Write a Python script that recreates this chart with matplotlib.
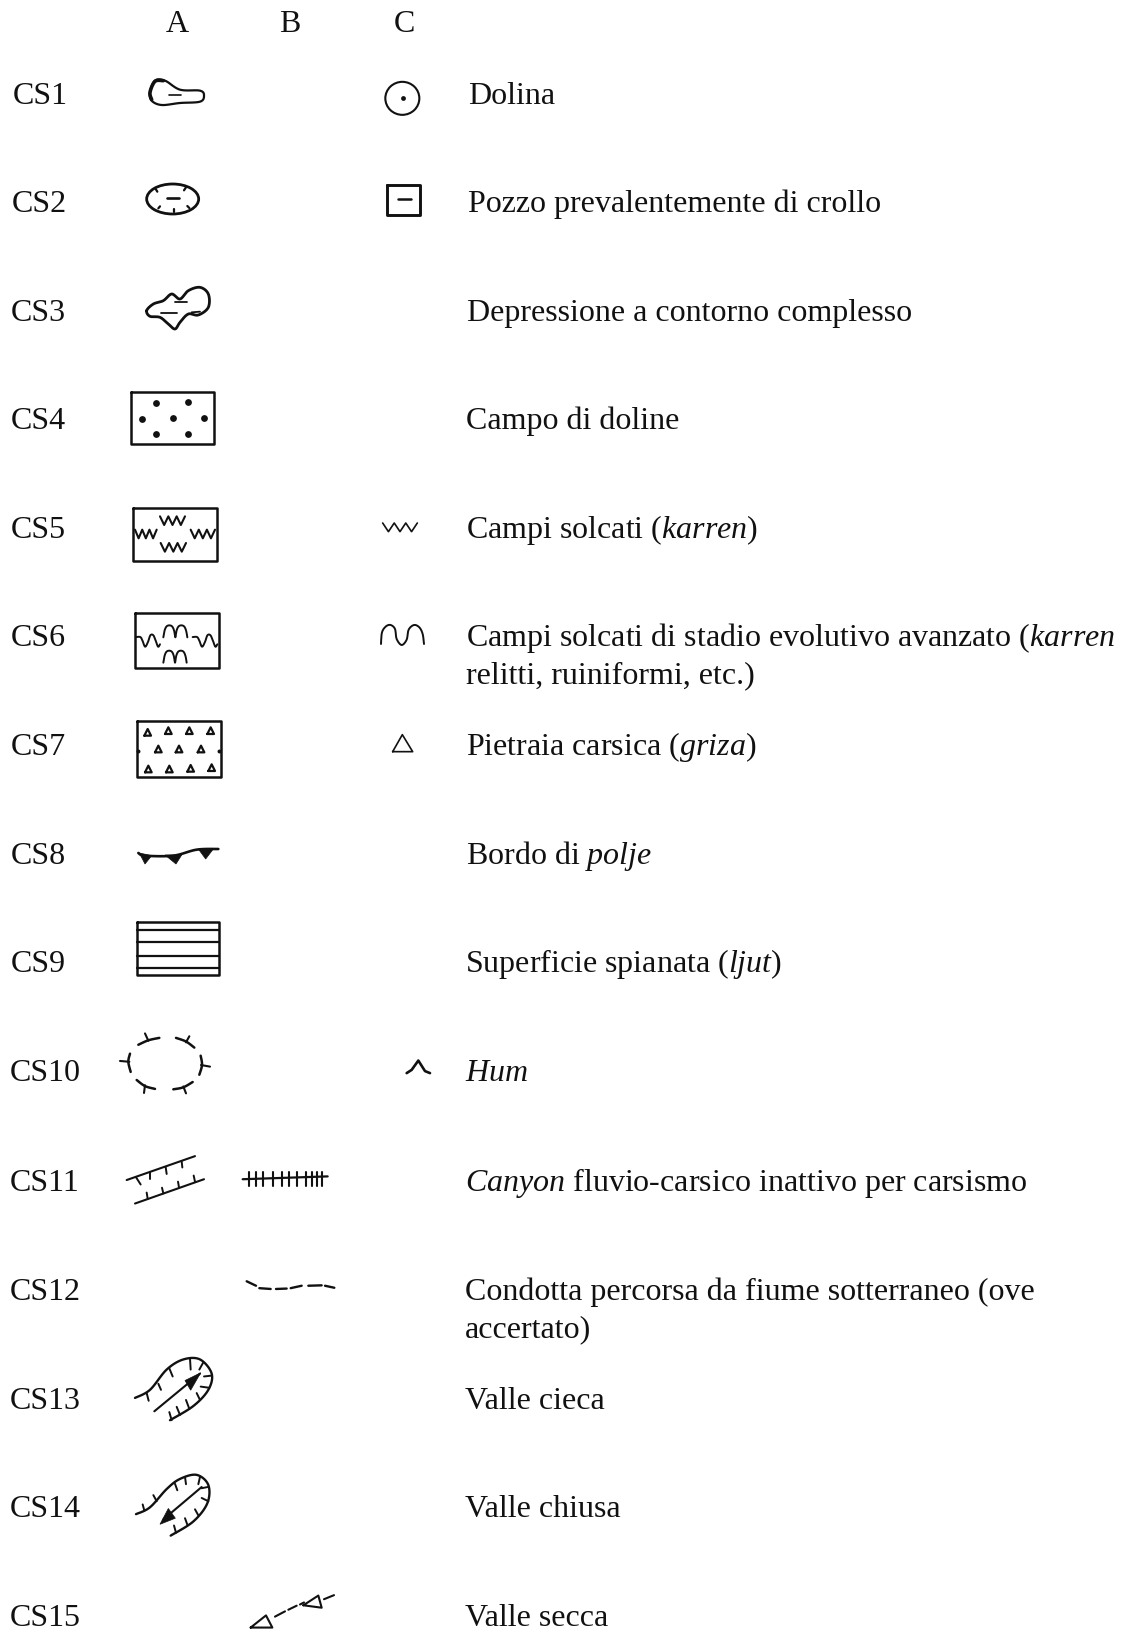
import numpy as np
import matplotlib
matplotlib.use("Agg")
import matplotlib.pyplot as plt
from matplotlib.patches import Polygon, Ellipse

plt.rcParams['font.family'] = ['Liberation Serif']
plt.rcParams['mathtext.fontset'] = 'custom'
plt.rcParams['mathtext.rm'] = 'Liberation Serif'
plt.rcParams['mathtext.it'] = 'Liberation Serif:italic'

# ---- content
col_heads = ["A", "B", "C"]
row_codes = ["CS1", "CS2", "CS3", "CS4", "CS5", "CS6", "CS7", "CS8", "CS9", "CS10",
             "CS11", "CS12", "CS13", "CS14", "CS15"]
descriptions = [
    "Dolina",
    "Pozzo prevalentemente di crollo",
    "Depressione a contorno complesso",
    "Campo di doline",
    r"Campi solcati ($\mathit{karren}$)",
    "Campi solcati di stadio evolutivo avanzato ($\\mathit{karren}$\nrelitti, ruiniformi, etc.)",
    r"Pietraia carsica ($\mathit{griza}$)",
    r"Bordo di $\mathit{polje}$",
    r"Superficie spianata ($\mathit{ljut}$)",
    r"$\mathit{Hum}$",
    r"$\mathit{Canyon}$ fluvio-carsico inattivo per carsismo",
    "Condotta percorsa da fiume sotterraneo (ove\naccertato)",
    "Valle cieca",
    "Valle chiusa",
    "Valle secca",
]

# ---- layout (pixels of the 1123 x 1631 page)
head_x = [177, 290, 404]
head_base = 32
code_x = [13, 12, 11, 11, 11, 11, 11, 11, 11, 10, 10, 10, 10, 10, 10]
desc_x = [468, 468, 467, 466, 466, 466, 466, 466, 465, 465, 465, 465, 465, 465, 465]
base_y = [104, 212, 321, 429, 538, 646, 755, 864, 972, 1081, 1191, 1300, 1409, 1517, 1626]
FS = 23
INK = "#111111"

fig = plt.figure(figsize=(11.23, 16.31), dpi=100)
ax = fig.add_axes([0, 0, 1, 1])
ax.set_xlim(0, 1123)
ax.set_ylim(1631, 0)
ax.axis("off")

for h, x in zip(col_heads, head_x):
    ax.text(x, head_base, h, fontsize=FS, ha="center", va="baseline", color=INK)
for code, desc, cx, dx, y in zip(row_codes, descriptions, code_x, desc_x, base_y):
    ax.text(cx, y, code, fontsize=FS, ha="left", va="baseline", color=INK)
    lines = desc.split("\n")
    for i, line in enumerate(lines):
        ax.text(dx, y + i * 37, line, fontsize=FS, ha="left", va="baseline", color=INK)

O1, O2, O3 = (100, 60, 1 / 3), (100, 480, 1 / 3), (100, 1000, 0.405)


def P(o, pts):
    a = np.asarray(pts, float)
    return np.c_[o[0] + a[:, 0] / 3, o[1] + a[:, 1] * o[2]]


def smooth(p, closed=False, n=12):
    p = np.asarray(p, float)
    if closed:
        q = np.r_[p[-1:], p, p[:2]]
    else:
        q = np.r_[p[:1], p, p[-1:]]
    out = []
    for i in range(1, len(q) - 2):
        p0, p1, p2, p3 = q[i - 1], q[i], q[i + 1], q[i + 2]
        for t in np.linspace(0, 1, n, endpoint=False):
            out.append(0.5 * (2 * p1 + (p2 - p0) * t + (2 * p0 - 5 * p1 + 4 * p2 - p3) * t ** 2
                              + (3 * p1 - p0 - 3 * p2 + p3) * t ** 3))
    out.append(q[-2])
    return np.array(out)


def L(o, pts, lw=1.5, sm=False, closed=False):
    p = P(o, pts)
    if sm:
        p = smooth(p, closed)
    elif closed:
        p = np.r_[p, p[:1]]
    ax.plot(p[:, 0], p[:, 1], color=INK, lw=lw, solid_capstyle="round", solid_joinstyle="round")


def segs(o, items, lw=1.5):
    for a, b in items:
        L(o, [a, b], lw=lw)


def box(o, x0, y0, x1, y1, lw=1.8):
    L(o, [(x0, y0), (x1, y0), (x1, y1), (x0, y1)], lw=lw, closed=True)


def dots(o, pts, s=14):
    p = P(o, pts)
    ax.scatter(p[:, 0], p[:, 1], s=s, color=INK, linewidths=0, zorder=3)


def zig(o, x0, x1, y, teeth=3, amp=13, lw=1.5):
    pts = []
    step = (x1 - x0) / (2 * teeth)
    for i in range(2 * teeth + 1):
        pts.append((x0 + i * step, y + (-amp if i % 2 == 0 else amp)))
    L(o, pts, lw=lw)


def humps(o, x0, x1, y, amp=18, lw=1.4):
    W = x1 - x0
    fr = [(0, 1), (.05, -.1), (.13, -.8), (.25, -1), (.37, -.8), (.45, -.1), (.5, 1),
          (.55, -.1), (.63, -.8), (.75, -1), (.87, -.8), (.95, -.1), (1, 1)]
    L(o, [(x0 + f * W, y + v * amp) for f, v in fr], lw=lw, sm=True)


def wig(o, x0, x1, y, amp=18, lw=1.4):
    W = x1 - x0
    fr = [(0, -.6), (.18, -.6), (.27, 0), (.38, 1), (.5, .2), (.6, -.9), (.72, -.9), (.82, 0), (.92, 1), (1, .6)]
    L(o, [(x0 + f * W, y + v * amp) for f, v in fr], lw=lw, sm=True)


def tri(o, cx, cy, h=10, lw=1.6):
    L(o, [(cx - h, cy + h), (cx + h, cy + h), (cx, cy - h)], lw=lw, closed=True)


def fill(o, pts):
    ax.add_patch(Polygon(P(o, pts), closed=True, fc=INK, ec=INK, lw=0.5, zorder=3))


# CS1
L(O1, [(150, 100), (165, 65), (195, 65), (240, 92), (300, 95), (312, 110), (300, 128), (240, 132), (185, 138),
       (155, 125)], lw=1.6, sm=True, closed=True)
L(O1, [(155, 122), (150, 100), (165, 67), (190, 65)], lw=2.6, sm=True)
segs(O1, [((207, 107), (243, 107))], lw=1.2)
# C1
c = P(O1, [(907, 118)])[0]
ax.add_patch(Ellipse(c, 34, 33, fc="none", ec=INK, lw=1.5))
dots(O1, [(908, 118)], s=12)
# CS2
c = P(O1, [(218, 420)])[0]
ax.add_patch(Ellipse(c, 52, 30, fc="none", ec=INK, lw=2.0))
segs(O1, [((202, 418), (238, 418))], lw=1.9)
segs(O1, [((167, 390), (172, 398)), ((258, 385), (252, 394)), ((222, 450), (222, 458)),
          ((175, 448), (180, 442)), ((268, 447), (262, 441))], lw=1.6)
# C2
box(O1, 862, 377, 960, 467, lw=2.1)
segs(O1, [((893, 421), (933, 421))], lw=1.8)
# CS3
L(O1, [(140, 755), (160, 735), (190, 725), (215, 705), (240, 720), (265, 695), (300, 685), (325, 705), (325, 745),
       (295, 768), (265, 765), (240, 790), (225, 810), (205, 795), (180, 775), (150, 772)], lw=2.0, sm=True,
  closed=True)
segs(O1, [((182, 762), (232, 762)), ((225, 730), (262, 730)), ((275, 760), (300, 758))], lw=1.3)
# CS4
box(O1, 93, 998, 343, 1155)
dots(O1, [(168, 1032), (265, 1030), (127, 1079), (218, 1077), (311, 1076), (168, 1125), (265, 1125)], s=24)
# CS5
box(O2, 100, 88, 352, 246)
zig(O2, 105, 170, 165)
zig(O2, 180, 255, 125)
zig(O2, 182, 258, 205)
zig(O2, 272, 345, 165)
# C5
zig(O2, 848, 952, 145, lw=1.2)
# CS6
box(O2, 105, 403, 357, 566)
wig(O2, 108, 180, 485)
humps(O2, 190, 262, 457)
humps(O2, 190, 260, 533)
wig(O2, 278, 352, 485)
# C6
L(O2, [(843, 495), (846, 460), (858, 442), (872, 438), (885, 450), (890, 480), (905, 498), (920, 482), (926, 452),
       (942, 438), (958, 445), (968, 465), (972, 495)], lw=1.4, sm=True)
# CS7
box(O2, 110, 727, 362, 895)
for cx, cy in [(143, 760), (205, 755), (268, 755), (332, 755), (175, 810), (237, 810), (303, 810), (145, 870),
               (208, 870), (272, 868), (335, 866)]:
    tri(O2, cx, cy)
dots(O2, [(115, 815), (358, 815)], s=8)
# C7
L(O2, [(878, 818), (938, 818), (907, 767)], lw=1.2, closed=True)
# CS8
L(O2, [(115, 1122), (135, 1130), (220, 1130), (290, 1112), (355, 1110)], lw=1.9, sm=True)
fill(O2, [(118, 1122), (155, 1130), (135, 1155)])
fill(O2, [(195, 1128), (245, 1128), (228, 1155)])
fill(O2, [(295, 1110), (340, 1110), (317, 1140)])
# CS9
box(O2, 110, 1330, 358, 1488)
segs(O2, [((110, y), (358, y)) for y in (1352, 1388, 1430, 1468)], lw=1.6)
# CS10
for pts, t0, t1 in [([(115, 113), (145, 102), (178, 96)], (145, 103), (135, 85)),
                    ([(228, 96), (258, 105), (283, 120)], (258, 107), (268, 92)),
                    ([(302, 140), (306, 163), (298, 187)], (303, 163), (330, 167)),
                    ([(90, 135), (85, 155), (92, 180)], (88, 155), (60, 153)),
                    ([(110, 200), (135, 215), (165, 222)], (135, 213), (132, 232)),
                    ([(220, 223), (250, 218), (278, 205)], (250, 216), (258, 233))]:
    L(O3, pts, lw=1.8, sm=True)
    segs(O3, [(t0, t1)], lw=1.5)
# C10
L(O3, [(920, 183), (935, 175), (955, 152), (975, 178), (990, 183)], lw=1.9)
# CS11 A
segs(O3, [((80, 447), (285, 388)), ((105, 505), (312, 445))], lw=1.5)
segs(O3, [((108, 440), (122, 458)), ((150, 428), (150, 444)), ((197, 415), (200, 432)), ((245, 401), (247, 416)),
          ((143, 493), (140, 478)), ((190, 480), (186, 466)), ((237, 465), (234, 451)), ((285, 451), (281, 436))], lw=1.4)
# CS11 B
segs(O3, [((428, 445), (683, 438))], lw=1.6)
segs(O3, [((x, 426), (x, 462)) for x in (447, 468, 490, 518, 545, 568, 592, 617, 635, 650, 665)], lw=1.5)
# CS12
segs(O3, [((440, 697), (468, 708)), ((478, 714), (512, 716)), ((528, 716), (560, 715)), ((572, 714), (605, 708)),
          ((625, 708), (665, 707)), ((675, 708), (703, 713))], lw=1.7)
# CS13
L(O3, [(105, 985), (150, 965), (200, 915), (250, 890), (300, 890), (335, 925), (325, 965), (280, 1005), (210, 1040)],
  lw=1.7, sm=True)
segs(O3, [((163, 1018), (300, 925))], lw=1.5)
fill(O3, [(302, 923), (255, 942), (272, 966)])
segs(O3, [((140, 973), (146, 992)), ((175, 950), (183, 965)), ((208, 912), (218, 932)), ((270, 888), (272, 915)),
          ((310, 897), (298, 915)), ((334, 930), (312, 932)), ((328, 960), (302, 957)), ((300, 990), (290, 973)),
          ((268, 1012), (258, 990)), ((240, 1027), (230, 1007)), ((215, 1040), (208, 1020))], lw=1.4)
# CS14
L(O3, [(108, 1272), (150, 1255), (200, 1210), (240, 1185), (290, 1175), (325, 1200), (322, 1245), (280, 1290),
       (212, 1325)], lw=1.7, sm=True)
segs(O3, [((190, 1285), (305, 1205))], lw=1.5)
fill(O3, [(180, 1297), (205, 1258), (226, 1282)])
segs(O3, [((133, 1263), (128, 1248)), ((170, 1240), (160, 1225)), ((225, 1197), (232, 1213)), ((255, 1180), (258, 1198)),
          ((300, 1180), (295, 1198)), ((323, 1205), (305, 1208)), ((325, 1240), (305, 1232)), ((295, 1275), (285, 1260)),
          ((262, 1298), (255, 1282)), ((228, 1318), (222, 1300))], lw=1.4)
# CS15
L(O3, [(452, 1552), (498, 1522), (517, 1552)], lw=1.5, closed=True)
L(O3, [(610, 1497), (655, 1473), (665, 1503)], lw=1.5, closed=True)
segs(O3, [((525, 1525), (555, 1512)), ((565, 1508), (590, 1498)), ((600, 1495), (612, 1490)), ((672, 1482), (702, 1472))],
     lw=1.5)

fig.savefig("out.png", dpi=100)
